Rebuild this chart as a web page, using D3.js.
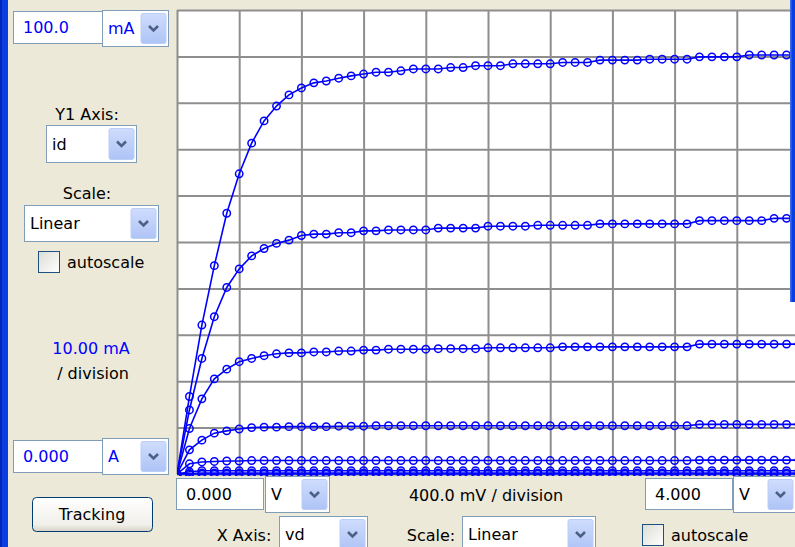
<!DOCTYPE html>
<html>
<head>
<meta charset="utf-8">
<script src="https://cdn.jsdelivr.net/npm/d3@7"></script>
<style>
  body { margin: 0; background: #ece9d8; overflow: hidden; }
  svg { display: block; font-family: "DejaVu Sans", sans-serif; font-size: 16px; }
</style>
</head>
<body>
<div id="chart"></div>
<script>
const w = 795;
const h = 547;

// drain voltage sweep (V)
const vd = [0.00,0.08,0.16,0.24,0.32,0.40,0.48,0.56,0.64,0.72,
            0.80,0.88,0.96,1.04,1.12,1.20,1.28,1.36,1.44,1.52,
            1.60,1.68,1.76,1.84,1.92,2.00,2.08,2.16,2.24,2.32,
            2.40,2.48,2.56,2.64,2.72,2.80,2.88,2.96,3.04,3.12,
            3.20,3.28,3.36,3.44,3.52,3.60,3.68,3.76,3.84,3.92,
            4.00];

// drain current (mA), one curve per gate step
const id1 = [0.0,16.7,32.1,44.9,56.2,64.7,71.3,76.1,79.3,81.7,
             83.2,84.3,84.7,85.3,85.8,86.2,86.6,86.6,86.9,87.3,
             87.3,87.3,87.6,87.6,88.0,88.0,88.0,88.4,88.4,88.4,
             88.4,88.7,88.7,88.7,89.2,89.2,89.2,89.2,89.4,89.4,
             89.4,89.4,89.9,89.9,89.9,89.9,90.3,90.3,90.3,90.3,
             90.3];
const id2 = [0.0,13.8,24.9,33.9,40.2,44.2,47.0,48.6,49.7,50.4,
             51.4,51.7,51.7,52.0,52.0,52.4,52.4,52.6,52.6,52.6,
             52.6,53.0,53.0,53.0,53.0,53.4,53.4,53.4,53.4,53.6,
             53.6,53.6,53.6,53.6,53.9,53.9,53.9,53.9,53.9,53.9,
             53.9,53.9,54.6,54.6,54.6,54.6,54.6,54.6,55.1,55.1,
             55.1];
const id3 = [0.0,9.8,16.2,20.5,22.6,24.2,24.9,25.5,25.9,26.1,
             26.1,26.3,26.3,26.5,26.5,26.7,26.7,26.9,26.9,26.9,
             26.9,27.0,27.0,27.0,27.0,27.2,27.2,27.2,27.2,27.2,
             27.2,27.4,27.4,27.4,27.4,27.4,27.4,27.4,27.4,27.4,
             27.4,27.4,28.0,28.0,28.0,28.0,28.0,28.0,28.0,28.0,
             28.0];
const id4 = [0.0,5.2,7.3,8.8,9.3,9.7,10.0,10.1,10.1,10.2,
             10.2,10.2,10.2,10.3,10.3,10.3,10.4,10.4,10.4,10.4,
             10.4,10.4,10.4,10.4,10.4,10.4,10.4,10.4,10.4,10.4,
             10.4,10.4,10.4,10.4,10.4,10.4,10.4,10.4,10.4,10.4,
             10.4,10.4,10.7,10.7,10.7,10.7,10.7,10.7,10.7,10.7,
             10.7];
const id5 = [0.0,2.2,2.6,2.7,2.8,2.8,2.9,2.9,2.9,2.9,
             2.9,2.9,2.9,2.9,2.9,2.9,2.9,2.9,2.9,2.9,
             2.9,2.9,2.9,2.9,2.9,2.9,2.9,2.9,2.9,2.9,
             2.9,2.9,2.9,2.9,2.9,2.9,2.9,2.9,2.9,2.9,
             2.9,2.9,3.0,3.0,3.0,3.0,3.0,3.0,3.0,3.0,
             3.0];
const id6 = [0.0,0.5,0.7,0.7,0.7,0.7,0.7,0.7,0.7,0.7,
             0.7,0.7,0.7,0.7,0.7,0.7,0.7,0.7,0.7,0.7,
             0.7,0.7,0.7,0.7,0.7,0.7,0.7,0.7,0.7,0.7,
             0.7,0.7,0.7,0.7,0.7,0.7,0.7,0.7,0.7,0.7,
             0.7,0.7,0.7,0.7,0.7,0.7,0.7,0.7,0.7,0.7,
             0.7];
const id7 = [0.0,0.1,0.2,0.2,0.2,0.2,0.2,0.2,0.2,0.2,
             0.2,0.2,0.2,0.2,0.2,0.2,0.2,0.2,0.2,0.2,
             0.2,0.2,0.2,0.2,0.2,0.2,0.2,0.2,0.2,0.2,
             0.2,0.2,0.2,0.2,0.2,0.2,0.2,0.2,0.2,0.2,
             0.2,0.2,0.2,0.2,0.2,0.2,0.2,0.2,0.2,0.2,
             0.2];
const id8 = [0,0,0,0,0,0,0,0,0,0,
             0,0,0,0,0,0,0,0,0,0,
             0,0,0,0,0,0,0,0,0,0,
             0,0,0,0,0,0,0,0,0,0,
             0,0,0,0,0,0,0,0,0,0,
             0];
const curves = [id8, id7, id6, id5, id4, id3, id2, id1];

const xTicks = [0,0.4,0.8,1.2,1.6,2.0,2.4,2.8,3.2,3.6,4.0];
const yTicks = [0,10,20,30,40,50,60,70,80,90,100];

const svg = d3.select("#chart").append("svg").attr("width", w).attr("height", h);

const defs = svg.append("defs");
const btnGrad = defs.append("linearGradient").attr("id", "btnGrad").attr("x1", 0).attr("y1", 0).attr("x2", 0).attr("y2", 1);
btnGrad.append("stop").attr("offset", "0%").attr("stop-color", "#cfdcfd");
btnGrad.append("stop").attr("offset", "100%").attr("stop-color", "#aec4f6");
const pushGrad = defs.append("linearGradient").attr("id", "pushGrad").attr("x1", 0).attr("y1", 0).attr("x2", 0).attr("y2", 1);
pushGrad.append("stop").attr("offset", "0%").attr("stop-color", "#ffffff");
pushGrad.append("stop").attr("offset", "80%").attr("stop-color", "#f0efea");
pushGrad.append("stop").attr("offset", "100%").attr("stop-color", "#d8d2c6");
const chkGrad = defs.append("linearGradient").attr("id", "chkGrad").attr("x1", 0).attr("y1", 0).attr("x2", 1).attr("y2", 1);
chkGrad.append("stop").attr("offset", "0%").attr("stop-color", "#dcdcd6");
chkGrad.append("stop").attr("offset", "100%").attr("stop-color", "#ffffff");

svg.append("rect").attr("width", w).attr("height", h).attr("fill", "#ece9d8");

// plot area
const plot = { left: 177, top: 10, right: 799, bottom: 474 };
const xScale = d3.scaleLinear().domain([0, 4]).range([plot.left, plot.right]);
const yScale = d3.scaleLinear().domain([0, 100]).range([plot.bottom, plot.top]);

svg.append("rect")
  .attr("x", plot.left).attr("y", plot.top)
  .attr("width", plot.right - plot.left).attr("height", plot.bottom - plot.top)
  .attr("fill", "#ffffff");

const xGrid = svg.append("g")
  .attr("transform", "translate(0," + plot.bottom + ")")
  .call(d3.axisBottom(xScale).tickValues(xTicks).tickSize(-(plot.bottom - plot.top)).tickFormat(""));
const yGrid = svg.append("g")
  .attr("transform", "translate(" + plot.left + ",0)")
  .call(d3.axisLeft(yScale).tickValues(yTicks).tickSize(-(plot.right - plot.left)).tickFormat(""));
[xGrid, yGrid].forEach(g => {
  g.select(".domain").remove();
  g.selectAll("line").attr("stroke", "#8e8e8e").attr("stroke-width", 2);
});

defs.append("clipPath").attr("id", "plotClip").append("rect")
  .attr("x", plot.left).attr("y", plot.top - 5)
  .attr("width", plot.right - plot.left).attr("height", plot.bottom - plot.top + 7);

const curveG = svg.append("g").attr("clip-path", "url(#plotClip)");
const line = d3.line().x((d, i) => xScale(vd[i])).y(d => yScale(d));

curves.forEach(c => {
  curveG.append("path").datum(c)
    .attr("d", line)
    .attr("fill", "none")
    .attr("stroke", "#0000ff")
    .attr("stroke-width", 1.6);
  curveG.selectAll(null).data(c).enter().append("circle")
    .attr("cx", (d, i) => xScale(vd[i]))
    .attr("cy", d => yScale(d))
    .attr("r", 3.7)
    .attr("fill", "none")
    .attr("stroke", "#0000ff")
    .attr("stroke-width", 1.5);
});

// window edges
svg.append("rect").attr("x", 0).attr("y", 0).attr("width", 8).attr("height", h).attr("fill", "#0a3ee0");
svg.append("rect").attr("x", 0).attr("y", 0).attr("width", 2).attr("height", h).attr("fill", "#0028b8");
svg.append("rect").attr("x", 790).attr("y", 0).attr("width", 6).attr("height", 302).attr("fill", "#0a3ee0");
svg.append("rect").attr("x", 790).attr("y", 0).attr("width", 1.5).attr("height", 302).attr("fill", "#3c6cf0");

// widgets
function textBox(x, y, bw, bh, label, color) {
  svg.append("rect").attr("x", x + 0.5).attr("y", y + 0.5).attr("width", bw).attr("height", bh)
    .attr("fill", "#ffffff").attr("stroke", "#7f9db9");
  svg.append("text").attr("x", x + 10).attr("y", y + bh / 2 + 6).attr("fill", color).text(label);
}

function dropdown(x, y, bw, bh, label, color) {
  svg.append("rect").attr("x", x + 0.5).attr("y", y + 0.5).attr("width", bw).attr("height", bh)
    .attr("fill", "#ffffff").attr("stroke", "#7f9db9");
  svg.append("text").attr("x", x + 6).attr("y", y + bh / 2 + 6).attr("fill", color).text(label);
  const bx = x + bw - 27, by = y + 3.5;
  svg.append("rect").attr("x", bx).attr("y", by).attr("width", 25).attr("height", bh - 6)
    .attr("rx", 2).attr("fill", "url(#btnGrad)").attr("stroke", "#bccdf6");
  const cx = bx + 12.5, cy = by + (bh - 6) / 2;
  svg.append("path")
    .attr("d", "M" + (cx - 4.5) + "," + (cy - 2.5) + "L" + cx + "," + (cy + 2) + "L" + (cx + 4.5) + "," + (cy - 2.5))
    .attr("fill", "none").attr("stroke", "#4d6185").attr("stroke-width", 2.6);
}

function checkbox(x, y, label) {
  svg.append("rect").attr("x", x + 0.5).attr("y", y + 0.5).attr("width", 21).attr("height", 21)
    .attr("fill", "url(#chkGrad)").attr("stroke", "#1c5180");
  svg.append("text").attr("x", x + 29).attr("y", y + 17).attr("fill", "#000").text(label);
}

function label(x, y, txt, color, anchor) {
  svg.append("text").attr("x", x).attr("y", y).attr("fill", color || "#000")
    .attr("text-anchor", anchor || "middle").text(txt);
}

textBox(13, 11, 89, 32, "100.0", "#0000ff");
dropdown(102, 10, 66, 36, "mA", "#0000ff");
label(87, 120, "Y1 Axis:");
dropdown(46, 125, 90, 37, "id", "#000");
label(87, 199, "Scale:");
dropdown(24, 205, 134, 36, "Linear", "#000");
checkbox(38, 251, "autoscale");
label(91, 354, "10.00 mA", "#0000ff");
label(93, 379, "/ division");
textBox(13, 440, 89, 32, "0.000", "#0000ff");
dropdown(102, 438, 66, 36, "A", "#0000ff");

svg.append("rect").attr("x", 32.5).attr("y", 497.5).attr("width", 120).attr("height", 34)
  .attr("rx", 4).attr("fill", "url(#pushGrad)").attr("stroke", "#003c74");
label(92, 520, "Tracking");

textBox(176, 478, 87, 31, "0.000", "#000");
dropdown(265, 476, 64, 36, "V", "#000");
label(486, 501, "400.0 mV / division");
textBox(645, 478, 87, 31, "4.000", "#000");
dropdown(733, 476, 62, 36, "V", "#000");

label(244, 541, "X Axis:");
dropdown(279, 516, 88, 36, "vd", "#000");
label(431, 541, "Scale:");
dropdown(462, 516, 133, 36, "Linear", "#000");
checkbox(642, 524, "autoscale");
</script>
</body>
</html>
